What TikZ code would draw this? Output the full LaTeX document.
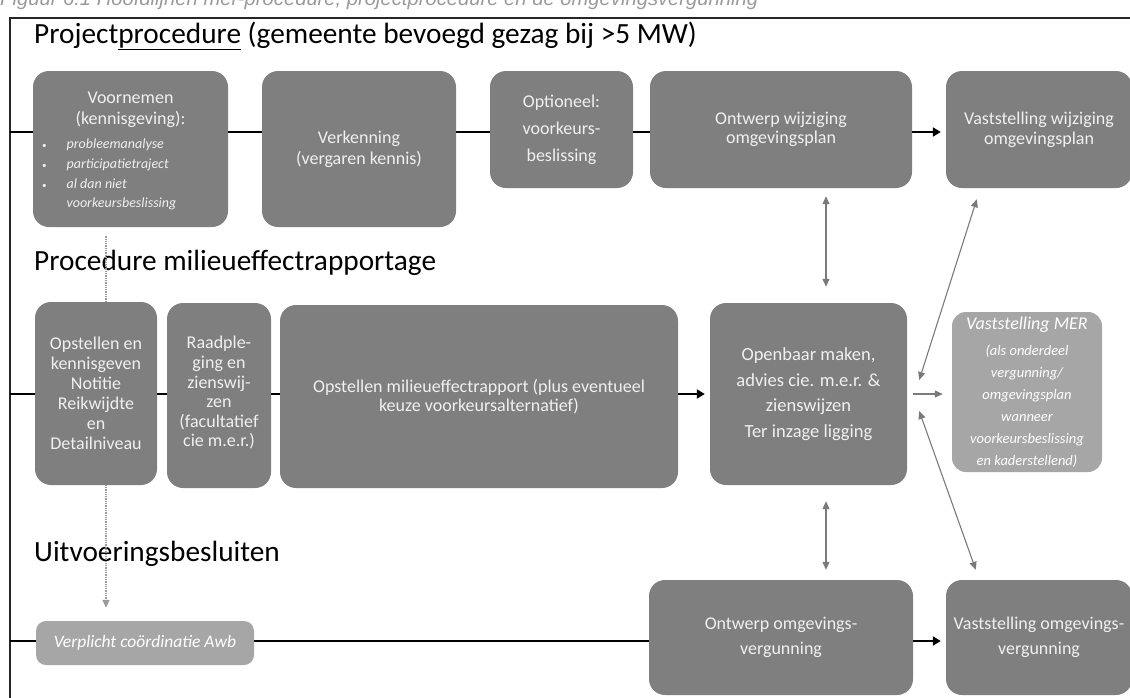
\documentclass[tikz,border=0pt]{standalone}
\usepackage{fontspec}
\setmainfont{Carlito}
\newfontfamily\capfont{Liberation Sans}
\usetikzlibrary{arrows.meta,calc}
\definecolor{boxdark}{HTML}{7F7F7F}
\definecolor{boxlight}{HTML}{A6A6A6}
\definecolor{boxtext}{HTML}{F0F0F0}
\definecolor{arrgray}{HTML}{7A7A7A}
\definecolor{framecol}{HTML}{262626}
\definecolor{capgray}{HTML}{9A9A9A}
\begin{document}
\begin{tikzpicture}[x=1pt,y=-1pt,
  darkbox/.style={fill=boxdark, rounded corners=16pt, text=boxtext, align=center, inner sep=0pt},
  lightbox/.style={fill=boxlight, rounded corners=14pt, text=white, align=center, inner sep=0pt},
  conn/.style={line width=2.2pt, black},
  connarr/.style={conn, -{Triangle[length=8pt,width=9pt]}},
  grayarr/.style={arrgray, line width=1.1pt, -{Triangle[length=8pt,width=7pt]}},
  graydbl/.style={arrgray, line width=1.1pt, {Triangle[length=8pt,width=7pt]}-{Triangle[length=8pt,width=7pt]}},
  dotline/.style={capgray, line width=1.3pt, densely dotted, -{Triangle[length=8pt,width=7pt]}},
  titletext/.style={anchor=base west, inner sep=0pt, font=\fontsize{29.3}{34}\selectfont, text=black},
]
\useasboundingbox (0,0) rectangle (1130,697);
\clip (0,0) rectangle (1130,697);

% caption (cut at the top, as in the source)
\node[anchor=base west, inner sep=0pt, text=capgray] (cap) at (0,5)
  {\resizebox{758pt}{!}{\capfont\itshape Figuur 6.1 Hoofdlijnen mer-procedure, projectprocedure en de omgevingsvergunning}};

% frame
\draw[framecol, line width=2.6pt] (10,700) -- (10,18) -- (1135,18);

% titles
\node[titletext] (t1) at (34,43) {Project\underline{procedure} (gemeente bevoegd gezag bij >5 MW)};
\node[titletext] (t2) at (34,270) {Procedure milieueffectrapportage};
\node[titletext] (t3) at (34,561) {Uitvoeringsbesluiten};

% dotted coordination line (drawn first, behind the box)
\coordinate (dx) at (106,0);
\node[darkbox, minimum width=195pt, minimum height=156pt] (voor) at (130.5,149) {};
\node[lightbox, rounded corners=10pt, minimum width=218pt, minimum height=44pt, font=\fontsize{17.5}{20}\selectfont\itshape] (awb) at (145,643) {Verplicht coördinatie Awb};
\draw[dotline, shorten <=9pt, shorten >=13pt] (voor.south -| dx) -- (awb.north -| dx);

% row 1
\node[text=boxtext, align=center, inner sep=0pt, font=\fontsize{18}{21}\selectfont, anchor=base] (voorh) at (130.5,124) {Voornemen\\(kennisgeving):};
\node[text=boxtext, inner sep=0pt, anchor=base west, font=\fontsize{14}{20}\selectfont\itshape] (voorl) at (42,148)
  {\begin{tabular}[t]{@{}l@{\hspace{20pt}}l@{}}
   {\upshape\fontsize{9}{9}\selectfont\textbullet} & probleemanalyse\\
   {\upshape\fontsize{9}{9}\selectfont\textbullet} & participatietraject\\
   {\upshape\fontsize{9}{9}\selectfont\textbullet} & al dan niet\\[-1pt]
   & voorkeursbeslissing
   \end{tabular}};
\node[darkbox, minimum width=194pt, minimum height=156pt, font=\fontsize{18}{21}\selectfont] (verk) at (359,149) {Verkenning\\(vergaren kennis)};
\node[darkbox, minimum width=143pt, minimum height=117pt, font=\fontsize{18}{27}\selectfont] (opt) at (561.5,129.5) {Optioneel:\\voorkeurs-\\beslissing};
\node[darkbox, minimum width=262pt, minimum height=117pt, font=\fontsize{18}{19.5}\selectfont] (ontw1) at (781,129.5) {Ontwerp wijziging\\omgevingsplan};
\node[darkbox, minimum width=186pt, minimum height=117pt, font=\fontsize{18}{20}\selectfont] (vast1) at (1039,129.5) {Vaststelling wijziging\\omgevingsplan};

% row 2
\node[darkbox, minimum width=122pt, minimum height=183pt, font=\fontsize{18}{20}\selectfont] (opst) at (96,393.5) {Opstellen en\\kennisgeven\\Notitie\\Reikwijdte\\en\\Detailniveau};
\node[darkbox, minimum width=104pt, minimum height=185pt, font=\fontsize{18}{19.6}\selectfont] (raad) at (219,395.5) {Raadple-\\ging en\\zienswij-\\zen\\(facultatief\\cie m.e.r.)\\[-12pt]};
\node[darkbox, minimum width=398pt, minimum height=183pt, font=\fontsize{18}{19.5}\selectfont] (mer) at (479,396.5) {Opstellen milieueffectrapport (plus eventueel\\keuze voorkeursalternatief)};
\node[darkbox, minimum width=197pt, minimum height=182pt, font=\fontsize{18.5}{25.5}\selectfont] (openb) at (808.5,394) {Openbaar maken,\\advies cie. m.e.r. \&\\zienswijzen\\Ter inzage ligging};
\node[lightbox, minimum width=150pt, minimum height=160pt, font=\fontsize{14.5}{22}\selectfont\itshape] (vmer) at (1027,392) {{\fontsize{18}{22}\selectfont Vaststelling MER}\\[4pt](als onderdeel\\vergunning/\\omgevingsplan\\wanneer\\voorkeursbeslissing\\en kaderstellend)};

% row 3
\node[darkbox, minimum width=264pt, minimum height=115pt, font=\fontsize{18}{25}\selectfont] (ontw2) at (781,637.5) {Ontwerp omgevings-\\vergunning};
\node[darkbox, minimum width=186pt, minimum height=115pt, font=\fontsize{18}{25}\selectfont] (vast2) at (1039,637.5) {Vaststelling omgevings-\\vergunning};

% row lines
\coordinate (r1) at (10,132);
\coordinate (r2) at (10,394);
\coordinate (r3) at (10,641);
\draw[conn] (r1) -- (voor.west |- r1);
\draw[conn] (voor.east |- r1) -- (verk.west |- r1);
\draw[conn] (verk.east |- r1) -- (opt.west |- r1);
\draw[conn] (opt.east |- r1) -- (ontw1.west |- r1);
\draw[connarr, shorten >=5pt] (ontw1.east |- r1) -- (vast1.west |- r1);

\draw[conn] (r2) -- (opst.west |- r2);
\draw[conn] (opst.east |- r2) -- (raad.west |- r2);
\draw[conn] (raad.east |- r2) -- (mer.west |- r2);
\draw[connarr, shorten >=5pt] (mer.east |- r2) -- (openb.west |- r2);
\draw[grayarr, shorten <=6pt, shorten >=9pt] (openb.east |- r2) -- (vmer.west |- r2);

\draw[conn] (r3) -- (awb.west |- r3);
\draw[conn] (awb.east |- r3) -- (ontw2.west |- r3);
\draw[connarr, shorten >=5pt] (ontw2.east |- r3) -- (vast2.west |- r3);

% vertical relations
\coordinate (vx) at (826,0);
\draw[graydbl, shorten <=8pt, shorten >=16pt] (ontw1.south -| vx) -- (openb.north -| vx);
\draw[graydbl, shorten <=16pt, shorten >=10pt] (openb.south -| vx) -- (ontw2.north -| vx);
\draw[graydbl] ($(vast1.south west)+(31,11)$) -- ($(openb.east)+(12,-14)$);
\draw[graydbl] ($(openb.east)+(12,17)$) -- ($(vast2.north west)+(30,-10)$);
\end{tikzpicture}
\end{document}
